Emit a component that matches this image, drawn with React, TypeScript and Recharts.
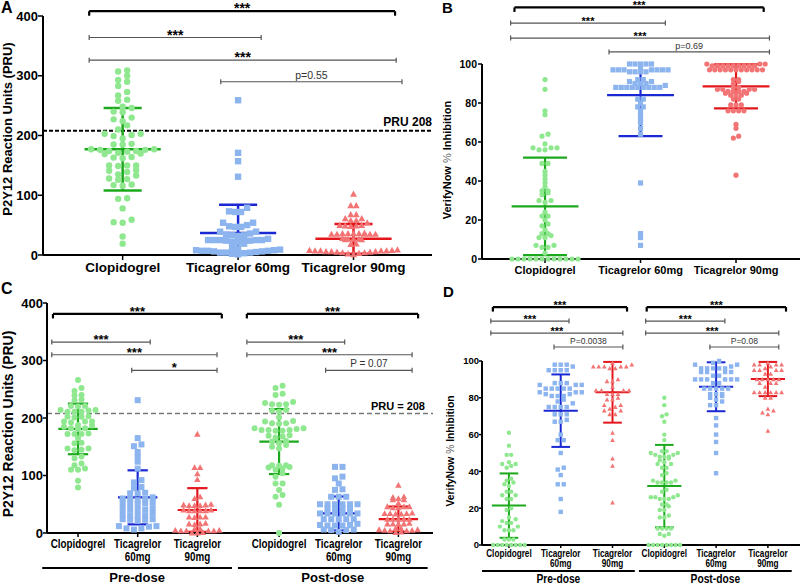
import React from "react";
import { ReferenceDot, ReferenceLine, Scatter, ScatterChart, XAxis, YAxis } from "recharts";

const FONT = "'Liberation Sans', Arial, Helvetica, sans-serif";

const categories = ["Clopidogrel", "Ticagrelor 60mg", "Ticagrelor 90mg"];
const doseGroups = ["Pre-dose", "Post-dose"];
const pruThreshold = 208;

const pointColors = ["#8fe88f", "#8cb4ee", "#f27474"];
const barColors = ["#1ca81c", "#1a28d4", "#e2161b"];

// A: PRU
const aClopidogrel = [309, 307, 300, 293, 290, 283, 273, 267, 260, 258, 248, 246, 240, 239, 230, 227, 224, 217, 210, 203, 203, 201, 199, 195, 186, 185, 185, 177, 177, 176, 176, 174, 174, 173, 171, 170, 169, 164, 163, 162, 150, 150, 150, 149, 142, 141, 139, 135, 133, 128, 127, 126, 118, 117, 116, 95, 94, 78, 59, 55, 54, 31, 19];
const aTicagrelor60 = [259, 171, 157, 131, 79, 73, 72, 72, 54, 54, 50, 48, 47, 47, 39, 39, 36, 34, 33, 33, 32, 27, 25, 25, 25, 25, 25, 24, 24, 24, 22, 22, 19, 12, 11, 9, 8, 8, 7, 7, 7, 6, 6, 5, 4, 4, 4, 3, 2, 1];
const aTicagrelor90 = [102, 83, 83, 68, 68, 61, 61, 58, 58, 54, 50, 50, 49, 49, 48, 37, 36, 36, 36, 36, 35, 35, 35, 35, 35, 28, 27, 27, 27, 26, 26, 19, 18, 9, 8, 8, 7, 7, 7, 7, 6, 6, 6, 5, 5, 4, 4, 3, 2, 1];
const aMean = [177, 37, 27];
const aSd = [69, 47, 25];

// B: % inhibition
const bClopidogrel = [92, 87, 76, 74, 64, 63, 59, 57, 57, 57, 56, 56, 49, 49, 45, 43, 41, 39, 37, 35, 35, 34, 33, 30, 30, 29, 24, 22, 22, 20, 18, 17, 15, 13, 13, 12, 11, 11, 7, 7, 6, 6, 3, 0, 0, 0, 0, 0, 0, 0, 0, 0, 0, 0, 0];
const bTicagrelor60 = [100, 100, 100, 100, 100, 98, 97, 97, 97, 97, 97, 97, 97, 96, 96, 96, 96, 92, 92, 91, 91, 90, 90, 90, 89, 88, 88, 88, 88, 88, 88, 88, 88, 88, 82, 82, 80, 78, 78, 76, 74, 72, 70, 67, 64, 39, 13, 11, 7];
const bTicagrelor90 = [100, 100, 100, 99, 99, 99, 99, 99, 99, 99, 99, 99, 97, 97, 97, 97, 97, 97, 97, 97, 97, 97, 97, 92, 92, 91, 90, 88, 88, 87, 87, 87, 87, 86, 86, 86, 86, 85, 85, 84, 84, 84, 82, 82, 79, 79, 79, 76, 76, 76, 76, 69, 67, 63, 62, 43];
const bMean = [27, 84, 88.5];
const bSd = [25, 21, 11.3];

// C: PRU pre / post dose
const cPreClopidogrel = [266, 252, 247, 240, 239, 232, 231, 221, 221, 220, 214, 214, 213, 211, 211, 211, 203, 202, 202, 201, 194, 194, 194, 192, 188, 187, 185, 182, 182, 181, 173, 172, 172, 172, 165, 157, 156, 147, 147, 145, 144, 133, 130, 121, 118, 112, 110, 110, 91, 79];
const cPreTicagrelor60 = [231, 165, 154, 151, 141, 133, 124, 112, 92, 88, 80, 78, 70, 69, 69, 62, 60, 59, 59, 57, 53, 52, 52, 50, 50, 43, 43, 41, 41, 40, 34, 33, 31, 31, 30, 24, 24, 23, 23, 21, 12, 12, 11, 8, 8, 6];
const cPreTicagrelor90 = [172, 114, 114, 103, 93, 63, 60, 50, 49, 49, 48, 48, 48, 40, 40, 39, 39, 39, 39, 28, 28, 28, 27, 17, 16, 16, 15, 7, 7, 5, 5, 4, 4, 4, 4, 1, 0, 0];
const cPostClopidogrel = [256, 252, 242, 240, 228, 226, 224, 224, 223, 214, 213, 211, 201, 195, 194, 191, 191, 190, 182, 182, 181, 179, 179, 179, 178, 178, 170, 169, 168, 166, 160, 159, 156, 153, 150, 147, 118, 118, 117, 115, 114, 112, 110, 104, 98, 86, 86, 75, 66, 63, 49, 0];
const cPostTicagrelor60 = [115, 115, 98, 95, 86, 76, 75, 63, 63, 63, 50, 50, 50, 50, 50, 50, 43, 43, 43, 43, 34, 34, 34, 34, 34, 34, 24, 24, 24, 24, 24, 16, 14, 14, 13, 13, 13, 6, 6, 5, 5, 2];
const cPostTicagrelor90 = [83, 63, 62, 60, 58, 58, 52, 46, 46, 46, 44, 44, 35, 34, 34, 34, 33, 33, 24, 24, 24, 24, 24, 17, 16, 16, 16, 16, 8, 8, 6, 6, 5, 5, 4, 4, 2, 1];
const cMean = [181, 62, 40, 159, 34, 24];
const cSd = [44, 47, 38, 56.5, 29.5, 22];

// D: % inhibition pre / post dose
const dPreClopidogrel = [61, 54, 49, 49, 45, 44, 44, 43, 42, 36, 35, 34, 33, 32, 29, 29, 27, 27, 25, 25, 20, 19, 15, 14, 13, 12, 12, 10, 10, 8, 8, 8, 3, 3, 3, 0, 0, 0, 0, 0, 0, 0, 0];
const dPreTicagrelor60 = [98, 98, 98, 97, 95, 95, 95, 95, 88, 88, 88, 87, 87, 87, 85, 85, 85, 85, 85, 83, 83, 83, 82, 82, 81, 81, 81, 79, 78, 77, 75, 75, 75, 75, 71, 71, 71, 68, 67, 67, 60, 57, 57, 50, 42, 41, 38, 33, 33, 25, 18];
const dPreTicagrelor90 = [99, 98, 97, 97, 97, 97, 97, 96, 96, 90, 89, 89, 86, 84, 84, 84, 84, 82, 82, 82, 80, 79, 79, 76, 76, 75, 74, 73, 73, 71, 71, 61, 57, 47, 43, 23];
const dPostClopidogrel = [80, 76, 71, 70, 67, 60, 57, 51, 51, 50, 50, 49, 49, 48, 48, 48, 47, 46, 45, 44, 44, 42, 42, 39, 38, 35, 35, 34, 34, 34, 34, 30, 29, 27, 26, 26, 26, 25, 25, 25, 22, 22, 21, 19, 19, 16, 15, 15, 9, 9, 9, 9, 6, 6, 5, 0, 0, 0, 0, 0, 0, 0, 0];
const dPostTicagrelor60 = [100, 99, 98, 98, 97, 96, 96, 96, 96, 96, 94, 94, 94, 94, 92, 92, 90, 90, 90, 90, 90, 90, 88, 88, 85, 85, 85, 85, 85, 82, 82, 82, 81, 80, 79, 78, 76, 76, 69, 65, 60, 56, 50, 39];
const dPostTicagrelor90 = [99, 98, 98, 98, 98, 97, 96, 95, 95, 95, 95, 93, 93, 90, 90, 90, 90, 90, 88, 88, 88, 86, 83, 83, 83, 83, 83, 83, 80, 80, 74, 73, 72, 71, 62];
const dMean = [21.4, 73, 83, 32, 86, 90.2];
const dSd = [17.5, 19.7, 16.5, 22.4, 13.3, 9.3];

type Bracket = { from: number; to: number; level: number; text: string; bold?: boolean };
type Dose = { from: number; to: number; level: number; text: string };

type PanelCfg = {
  left: number; top: number; width: number; height: number;
  margin: { top: number; right: number; bottom: number; left: number };
  yAxisWidth: number; xAxisHeight: number;
  xDomain: [number, number]; yMax: number; yTicks: number[];
  positions: number[]; labels: string[]; wrap: boolean;
  groups: number[][]; colorIdx: number[]; shapes: string[];
  means: number[]; sds: number[];
  r: number; sep: number[]; rowH: number; meanHalf: number; capHalf: number; barWidth: number;
  brackets: Bracket[]; starSize: number; pSize: number;
  yTickFont: number; yTickSize: number; yTickMargin: number;
  catFont: number; catScale: number; catDy: number; catGap: number; xTickSize: number;
  pru?: { label: string; color: string; width: number; dash: string; size: number; dx: number; dy: number };
  doses?: Dose[]; doseFont?: number; doseScale?: number; doseDy?: number;
};

// Prism-style scatter: values close in height share a row, laid out symmetrically
function rowOffsets(values: number[], pxY: number, pxX: number, sep: number, rowH: number) {
  const order = values.map((_, i) => i).sort((a, b) => values[a] - values[b]);
  const out: number[] = new Array(values.length).fill(0);
  let row: number[] = [];
  let start = -Infinity;
  const flush = () => {
    const n = row.length;
    const slots = Array.from({ length: n }, (_, j) => (j - (n - 1) / 2) * sep).sort(
      (a, b) => Math.abs(a) - Math.abs(b) || a - b
    );
    row.forEach((idx, k) => (out[idx] = slots[k] / pxX));
    row = [];
  };
  order.forEach((i) => {
    const y = values[i] * pxY;
    if (y - start >= rowH) {
      flush();
      start = y;
    }
    row.push(i);
  });
  flush();
  return out;
}

function marker(kind: string, color: string, r: number) {
  return (props: any) => {
    const { cx, cy } = props;
    if (cx == null || cy == null) return <g />;
    if (kind === "square")
      return <rect x={cx - r} y={cy - r} width={2 * r} height={2 * r} fill={color} />;
    if (kind === "triangle") {
      const h = r * 1.08;
      return (
        <polygon
          points={`${cx},${cy - h} ${cx + h},${cy + h * 0.8} ${cx - h},${cy + h * 0.8}`}
          fill={color}
        />
      );
    }
    return <circle cx={cx} cy={cy} r={r} fill={color} />;
  };
}

function Panel({ cfg }: { cfg: PanelCfg }) {
  const plotW = cfg.width - cfg.margin.left - cfg.margin.right - cfg.yAxisWidth;
  const plotH = cfg.height - cfg.margin.top - cfg.margin.bottom - cfg.xAxisHeight;
  const pxX = plotW / (cfg.xDomain[1] - cfg.xDomain[0]);
  const pxY = plotH / cfg.yMax;
  const u = (px: number) => px / pxY;

  const series = cfg.groups.map((vals, g) => {
    const off = rowOffsets(vals, pxY, pxX, cfg.sep[g], cfg.rowH);
    return vals.map((v, i) => ({ x: cfg.positions[g] + off[i], y: v }));
  });

  const refs: React.ReactElement[] = [];
  const seg = (key: string, x1: number, y1: number, x2: number, y2: number, stroke: string, w: number) =>
    refs.push(
      <ReferenceLine
        key={key}
        segment={[{ x: x1, y: y1 }, { x: x2, y: y2 }]}
        stroke={stroke}
        strokeWidth={w}
        ifOverflow="visible"
      />
    );
  const label = (key: string, x: number, y: number, el: (cx: number, cy: number) => React.ReactElement) =>
    refs.push(
      <ReferenceDot
        key={key}
        x={x}
        y={y}
        r={1}
        ifOverflow="visible"
        shape={(p: any) => el(p.cx, p.cy)}
      />
    );

  // mean +/- SD
  cfg.means.forEach((m, g) => {
    const p = cfg.positions[g];
    const col = barColors[cfg.colorIdx[g]];
    const w = cfg.barWidth;
    const hi = m + cfg.sds[g];
    const lo = m - cfg.sds[g];
    seg(`v${g}`, p, Math.max(lo, 0), p, Math.min(hi, cfg.yMax), col, w);
    seg(`m${g}`, p - cfg.meanHalf, m, p + cfg.meanHalf, m, col, w);
    if (hi <= cfg.yMax) seg(`h${g}`, p - cfg.capHalf, hi, p + cfg.capHalf, hi, col, w);
    if (lo >= 0) seg(`l${g}`, p - cfg.capHalf, lo, p + cfg.capHalf, lo, col, w);
  });

  // significance brackets
  cfg.brackets.forEach((b, k) => {
    const col = b.bold ? "#000" : "#555";
    const w = b.bold ? 2.2 : 1.2;
    seg(`b${k}`, b.from, b.level, b.to, b.level, col, w);
    if (b.bold) {
      const t = u(4.5);
      seg(`bl${k}`, b.from, b.level, b.from, b.level - t, col, w);
      seg(`br${k}`, b.to, b.level, b.to, b.level - t, col, w);
    } else {
      const t = u(2.5);
      seg(`bl${k}`, b.from, b.level - t, b.from, b.level + t, col, w);
      seg(`br${k}`, b.to, b.level - t, b.to, b.level + t, col, w);
    }
    const stars = b.text.startsWith("*");
    label(`bt${k}`, (b.from + b.to) / 2, b.level, (cx, cy) => (
      <text
        x={cx}
        y={stars ? cy + 2 : cy - 3}
        textAnchor="middle"
        fontFamily={FONT}
        fontSize={stars ? cfg.starSize : cfg.pSize}
        fontWeight={stars ? 700 : 400}
        fill={stars ? "#000" : "#333"}
      >
        {b.text}
      </text>
    ));
  });

  // group underline (pre / post dose)
  (cfg.doses || []).forEach((d, k) => {
    seg(`d${k}`, d.from, d.level, d.to, d.level, "#000", 2);
    label(`dt${k}`, (d.from + d.to) / 2, d.level, (cx, cy) => (
      <text
        transform={`translate(${cx},${cy + (cfg.doseDy || 0)}) scale(${cfg.doseScale || 1},1)`}
        textAnchor="middle"
        fontFamily={FONT}
        fontSize={cfg.doseFont}
        fontWeight={700}
        fill="#000"
      >
        {d.text}
      </text>
    ));
  });

  const pru = cfg.pru;
  if (pru) {
    label("pru", cfg.xDomain[1], pruThreshold, (cx, cy) => (
      <text
        x={cx - pru.dx}
        y={cy + pru.dy}
        textAnchor="end"
        fontFamily={FONT}
        fontSize={pru.size}
        fontWeight={700}
        fill="#000"
      >
        {pru.label}
      </text>
    ));
  }

  const catTick = (props: any) => {
    const { x, y, payload } = props;
    const i = cfg.positions.findIndex((p) => Math.abs(p - payload.value) < 1e-6);
    if (i < 0) return <g />;
    const text = cfg.labels[i];
    const lines = cfg.wrap ? text.split(" ") : [text];
    return (
      <g transform={`translate(${x},${y}) scale(${cfg.catScale},1)`}>
        <text textAnchor="middle" fontFamily={FONT} fontSize={cfg.catFont} fontWeight={700} fill="#000">
          {lines.map((l, k) => (
            <tspan key={k} x={0} dy={k === 0 ? cfg.catDy : cfg.catGap}>
              {l}
            </tspan>
          ))}
        </text>
      </g>
    );
  };

  return (
    <div style={{ position: "absolute", left: cfg.left, top: cfg.top }}>
      <ScatterChart width={cfg.width} height={cfg.height} margin={cfg.margin}>
        <XAxis
          type="number"
          dataKey="x"
          domain={cfg.xDomain}
          ticks={cfg.positions}
          interval={0}
          height={cfg.xAxisHeight}
          tick={catTick}
          tickSize={cfg.xTickSize}
          tickMargin={0}
          axisLine={{ stroke: "#000", strokeWidth: 2 }}
          tickLine={{ stroke: "#000", strokeWidth: 1.5 }}
        />
        <YAxis
          type="number"
          dataKey="y"
          domain={[0, cfg.yMax]}
          ticks={cfg.yTicks}
          interval={0}
          width={cfg.yAxisWidth}
          tickSize={cfg.yTickSize}
          tickMargin={cfg.yTickMargin}
          tick={{ fontSize: cfg.yTickFont, fontWeight: 700, fill: "#000", fontFamily: FONT }}
          axisLine={{ stroke: "#000", strokeWidth: 2 }}
          tickLine={{ stroke: "#000", strokeWidth: 1.5 }}
        />
        {pru && (
          <ReferenceLine
            y={pruThreshold}
            stroke={pru.color}
            strokeWidth={pru.width}
            strokeDasharray={pru.dash}
            ifOverflow="visible"
          />
        )}
        {series.map((data, g) => (
          <Scatter
            key={`s${g}`}
            data={data}
            isAnimationActive={false}
            shape={marker(cfg.shapes[g], pointColors[cfg.colorIdx[g]], cfg.r)}
          />
        ))}
        {refs}
      </ScatterChart>
    </div>
  );
}

const panelA: PanelCfg = {
  left: 0, top: 0, width: 440, height: 290,
  margin: { top: 16, right: 8, bottom: 5, left: 0 },
  yAxisWidth: 43, xAxisHeight: 30,
  xDomain: [-0.69, 2.68], yMax: 400, yTicks: [0, 100, 200, 300, 400],
  positions: [0, 1, 2], labels: categories, wrap: false,
  groups: [aClopidogrel, aTicagrelor60, aTicagrelor90],
  colorIdx: [0, 1, 2], shapes: ["circle", "square", "triangle"],
  means: aMean, sds: aSd,
  r: 3.2, sep: [9, 6, 5.5], rowH: 5, meanHalf: 0.33, capHalf: 0.165, barWidth: 2.5,
  brackets: [
    { from: -0.29, to: 2.36, level: 408, text: "***", bold: true },
    { from: -0.29, to: 1.2, level: 364, text: "***" },
    { from: -0.29, to: 2.37, level: 326, text: "***" },
    { from: 0.85, to: 2.42, level: 290, text: "p=0.55" },
  ],
  starSize: 14, pSize: 10.5,
  yTickFont: 13, yTickSize: 5, yTickMargin: 0,
  catFont: 13.5, catScale: 1, catDy: 12, catGap: 13, xTickSize: 5,
  pru: { label: "PRU 208", color: "#000", width: 2, dash: "4 2", size: 12, dx: 0, dy: -5 },
};

const panelB: PanelCfg = {
  left: 400, top: 0, width: 400, height: 290,
  margin: { top: 64, right: 0, bottom: 5, left: 0 },
  yAxisWidth: 82, xAxisHeight: 26,
  xDomain: [-0.66, 2.67], yMax: 100, yTicks: [0, 20, 40, 60, 80, 100],
  positions: [0, 1, 2], labels: categories, wrap: false,
  groups: [bClopidogrel, bTicagrelor60, bTicagrelor90],
  colorIdx: [0, 1, 2], shapes: ["circle", "square", "circle"],
  means: bMean, sds: bSd,
  r: 2.6, sep: [6, 5.5, 5.3], rowH: 3.5, meanHalf: 0.35, capHalf: 0.23, barWidth: 2.2,
  brackets: [
    { from: -0.32, to: 2.29, level: 129, text: "***", bold: true },
    { from: -0.36, to: 1.26, level: 121, text: "***" },
    { from: -0.36, to: 2.35, level: 113.3, text: "***" },
    { from: 0.67, to: 2.35, level: 106.2, text: "p=0.69" },
  ],
  starSize: 11, pSize: 9,
  yTickFont: 10.5, yTickSize: 4, yTickMargin: 1,
  catFont: 11, catScale: 1, catDy: 11, catGap: 12, xTickSize: 4,
};

const panelC: PanelCfg = {
  left: 0, top: 290, width: 440, height: 294,
  margin: { top: 13, right: 7, bottom: 10, left: 0 },
  yAxisWidth: 47, xAxisHeight: 41,
  xDomain: [-0.52, 5.95], yMax: 400, yTicks: [0, 100, 200, 300, 400],
  positions: [0, 1, 2, 3.37, 4.37, 5.37], labels: [...categories, ...categories], wrap: true,
  groups: [cPreClopidogrel, cPreTicagrelor60, cPreTicagrelor90, cPostClopidogrel, cPostTicagrelor60, cPostTicagrelor90],
  colorIdx: [0, 1, 2, 0, 1, 2], shapes: ["circle", "square", "triangle", "circle", "square", "triangle"],
  means: cMean, sds: cSd,
  r: 3, sep: [7, 7.5, 5.5, 7, 7.5, 5.5], rowH: 4, meanHalf: 0.33, capHalf: 0.17, barWidth: 2.2,
  brackets: [
    { from: -0.42, to: 2.41, level: 381, text: "***", bold: true },
    { from: 2.83, to: 5.7, level: 381, text: "***", bold: true },
    { from: -0.44, to: 1.21, level: 332, text: "***" },
    { from: -0.44, to: 2.33, level: 310, text: "***" },
    { from: 0.9, to: 2.33, level: 283, text: "*" },
    { from: 2.83, to: 4.47, level: 332, text: "***" },
    { from: 2.83, to: 5.6, level: 310, text: "***" },
    { from: 4.15, to: 5.6, level: 283, text: "P = 0.07" },
  ],
  starSize: 13, pSize: 10,
  yTickFont: 13, yTickSize: 4, yTickMargin: 0,
  catFont: 12, catScale: 0.82, catDy: 11, catGap: 13, xTickSize: 4,
  pru: { label: "PRU = 208", color: "#777", width: 1.5, dash: "5 3", size: 11, dx: 8, dy: -3 },
  doses: [
    { from: -0.6, to: 2.58, level: -61, text: doseGroups[0] },
    { from: 2.68, to: 5.86, level: -61, text: doseGroups[1] },
  ],
  doseFont: 13, doseScale: 1, doseDy: 13.6,
};

const panelD: PanelCfg = {
  left: 400, top: 290, width: 400, height: 294,
  margin: { top: 71, right: 0, bottom: 10, left: 0 },
  yAxisWidth: 82, xAxisHeight: 29,
  xDomain: [-0.52, 5.62], yMax: 100, yTicks: [0, 20, 40, 60, 80, 100],
  positions: [0, 1, 2, 3, 4, 5], labels: [...categories, ...categories], wrap: true,
  groups: [dPreClopidogrel, dPreTicagrelor60, dPreTicagrelor90, dPostClopidogrel, dPostTicagrelor60, dPostTicagrelor90],
  colorIdx: [0, 1, 2, 0, 1, 2], shapes: ["circle", "square", "triangle", "circle", "square", "triangle"],
  means: dMean, sds: dSd,
  r: 2.2, sep: [4.5, 6, 5.5, 4.5, 6, 5.5], rowH: 4, meanHalf: 0.33, capHalf: 0.18, barWidth: 2,
  brackets: [
    { from: -0.31, to: 2.28, level: 129.3, text: "***", bold: true },
    { from: 2.66, to: 5.35, level: 129.3, text: "***", bold: true },
    { from: -0.35, to: 1.16, level: 121.7, text: "***" },
    { from: -0.35, to: 2.2, level: 115.2, text: "***" },
    { from: 0.87, to: 2.2, level: 107.6, text: "P=0.0038" },
    { from: 2.64, to: 4.17, level: 121.7, text: "***" },
    { from: 2.64, to: 5.21, level: 115.2, text: "***" },
    { from: 3.88, to: 5.21, level: 107.6, text: "P=0.08" },
  ],
  starSize: 11, pSize: 8.5,
  yTickFont: 9.5, yTickSize: 3, yTickMargin: 0,
  catFont: 10, catScale: 0.82, catDy: 8.5, catGap: 11, xTickSize: 3,
  doses: [
    { from: -0.52, to: 2.43, level: -14.1, text: doseGroups[0] },
    { from: 2.51, to: 5.46, level: -14.1, text: doseGroups[1] },
  ],
  doseFont: 12.5, doseScale: 0.82, doseDy: 12.3,
};

function AxisTitle({ x, y, size, children }: { x: number; y: number; size: number; children: React.ReactNode }) {
  return (
    <text
      transform={`translate(${x},${y}) rotate(-90)`}
      textAnchor="middle"
      dominantBaseline="central"
      fontFamily={FONT}
      fontSize={size}
      fontWeight={700}
      fill="#000"
    >
      {children}
    </text>
  );
}

export default function App() {
  const letter = { fontFamily: FONT, fontWeight: 700, fill: "#000" } as const;
  return (
    <div
      style={{
        position: "absolute",
        left: 0,
        top: 0,
        width: 800,
        height: 584,
        background: "#fff",
        overflow: "hidden",
        fontFamily: FONT,
      }}
    >
      <Panel cfg={panelA} />
      <Panel cfg={panelB} />
      <Panel cfg={panelC} />
      <Panel cfg={panelD} />
      <svg
        width={800}
        height={584}
        style={{ position: "absolute", left: 0, top: 0, pointerEvents: "none" }}
      >
        <text x={1} y={13} fontSize={16} {...letter}>A</text>
        <text x={442} y={13} fontSize={15} {...letter}>B</text>
        <text x={1} y={294} fontSize={16} {...letter}>C</text>
        <text x={443} y={297} fontSize={15} {...letter}>D</text>
        <AxisTitle x={7.5} y={129} size={13}>P2Y12 Reaction Units (PRU)</AxisTitle>
        <AxisTitle x={7.5} y={424} size={14}>P2Y12 Reaction Units (PRU)</AxisTitle>
        <AxisTitle x={447} y={160} size={11}>
          VerifyNow <tspan fontWeight={400} fill="#666">%</tspan> Inhibition
        </AxisTitle>
        <AxisTitle x={450} y={451} size={10.3}>
          VerifyNow <tspan fontWeight={400} fill="#666">%</tspan> Inhibition
        </AxisTitle>
      </svg>
    </div>
  );
}
